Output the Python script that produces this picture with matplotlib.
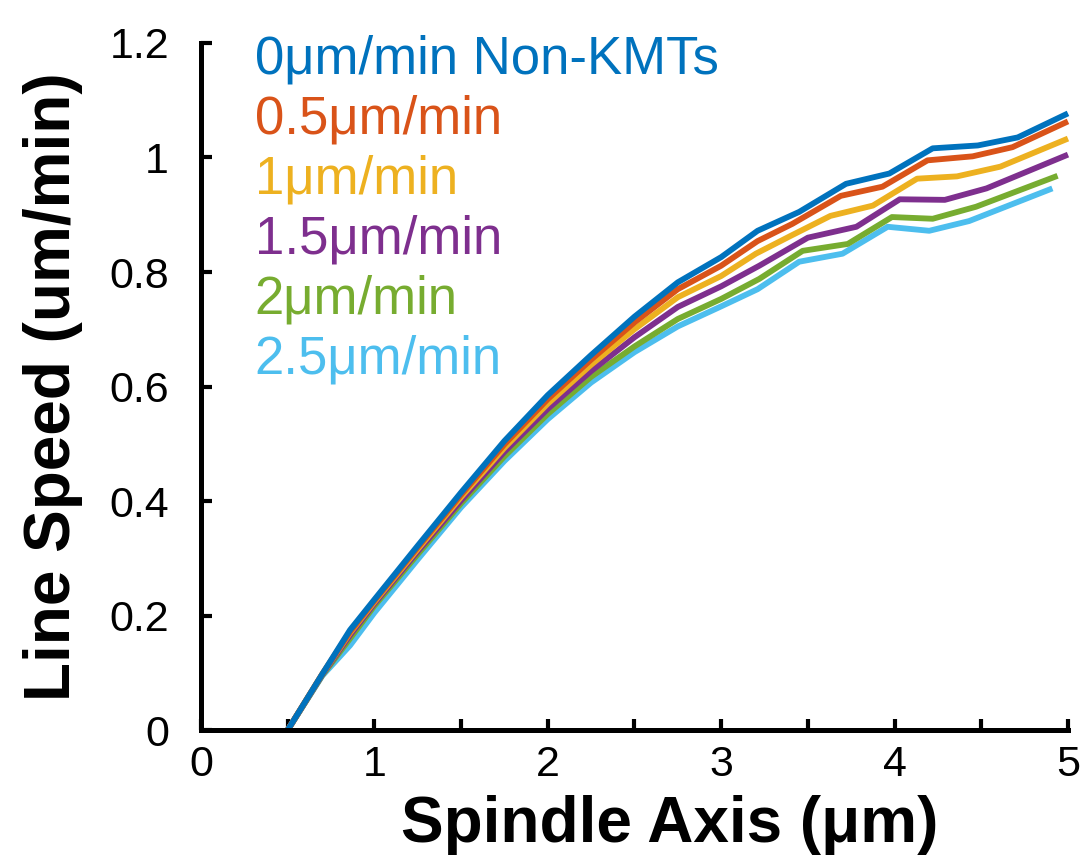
import matplotlib
matplotlib.use("Agg")
import matplotlib.pyplot as plt
from matplotlib.ticker import MultipleLocator, FuncFormatter

plt.rcParams['font.family'] = ['Liberation Sans', 'DejaVu Sans']

# shared x positions for the lower, smooth part of the curves
x_common = [0.5, 0.70, 0.86, 1.0, 1.25, 1.5, 1.75, 2.0, 2.25, 2.5, 2.75, 3.0]

labels = ['0μm/min Non-KMTs', '0.5μm/min', '1μm/min', '1.5μm/min', '2μm/min', '2.5μm/min']
colors = ['#0072BD', '#D95319', '#EDB120', '#7E2F8E', '#77AC30', '#4DBEEE']

y_0 = [0, 0.098, 0.175, 0.228, 0.322, 0.415, 0.505, 0.585, 0.655, 0.722, 0.782, 0.826]
y_05 = [0, 0.098, 0.172, 0.226, 0.319, 0.411, 0.499, 0.578, 0.647, 0.712, 0.770, 0.811]
y_1 = [0, 0.098, 0.170, 0.224, 0.316, 0.407, 0.493, 0.570, 0.638, 0.700, 0.756, 0.793]
y_15 = [0, 0.097, 0.166, 0.221, 0.312, 0.401, 0.486, 0.561, 0.627, 0.686, 0.739, 0.775]
y_2 = [0, 0.096, 0.160, 0.217, 0.307, 0.396, 0.478, 0.552, 0.617, 0.670, 0.718, 0.753]
y_25 = [0, 0.095, 0.148, 0.205, 0.298, 0.389, 0.470, 0.543, 0.607, 0.660, 0.705, 0.740]

# upper part, each curve has its own sample positions
x_tail_0 = [3.21, 3.45, 3.72, 3.97, 4.22, 4.48, 4.71, 5.0]
y_tail_0 = [0.872, 0.905, 0.954, 0.972, 1.016, 1.021, 1.035, 1.077]
x_tail_05 = [3.21, 3.41, 3.69, 3.93, 4.19, 4.45, 4.68, 5.0]
y_tail_05 = [0.854, 0.884, 0.933, 0.949, 0.995, 1.002, 1.018, 1.063]
x_tail_1 = [3.20, 3.40, 3.63, 3.875, 4.13, 4.36, 4.61, 5.0]
y_tail_1 = [0.832, 0.863, 0.898, 0.916, 0.963, 0.967, 0.984, 1.033]
x_tail_15 = [3.22, 3.50, 3.78, 4.03, 4.29, 4.53, 5.0]
y_tail_15 = [0.811, 0.860, 0.879, 0.927, 0.926, 0.946, 1.005]
x_tail_2 = [3.22, 3.47, 3.73, 3.985, 4.22, 4.47, 4.94]
y_tail_2 = [0.788, 0.837, 0.849, 0.896, 0.893, 0.914, 0.968]
x_tail_25 = [3.21, 3.45, 3.70, 3.96, 4.20, 4.43, 4.91]
y_tail_25 = [0.770, 0.818, 0.832, 0.879, 0.872, 0.889, 0.946]

series = [
    (y_0, x_tail_0, y_tail_0),
    (y_05, x_tail_05, y_tail_05),
    (y_1, x_tail_1, y_tail_1),
    (y_15, x_tail_15, y_tail_15),
    (y_2, x_tail_2, y_tail_2),
    (y_25, x_tail_25, y_tail_25),
]

fig = plt.figure(figsize=(10.92, 8.59), dpi=100)
ax = fig.add_axes([0.184, 0.150, 0.794, 0.800])

# draw back to front so the top curve ends up on top
for (yc, xt, yt), c in reversed(list(zip(series, colors))):
    ax.plot(x_common + xt, yc + yt, color=c, lw=4.2, solid_joinstyle='round',
            solid_capstyle='butt', clip_on=False)

ax.set_xlim(0, 5)
ax.set_ylim(0, 1.2)
ax.spines['top'].set_visible(False)
ax.spines['right'].set_visible(False)
for s in ['left', 'bottom']:
    ax.spines[s].set_linewidth(3.6)

ax.xaxis.set_major_locator(MultipleLocator(1))
ax.xaxis.set_minor_locator(MultipleLocator(0.5))
ax.yaxis.set_major_locator(MultipleLocator(0.2))
fmt = FuncFormatter(lambda v, p: f'{v:g}')
ax.xaxis.set_major_formatter(fmt)
ax.yaxis.set_major_formatter(fmt)
ax.tick_params(axis='both', which='both', direction='in', length=8, width=3)
ax.tick_params(axis='x', which='major', labelsize=31, pad=11)
ax.tick_params(axis='y', which='major', labelsize=31, pad=23)

ax.set_xlabel('Spindle Axis (μm)', fontsize=46, fontweight='bold', labelpad=7)
ax.xaxis.label.set_x(0.541)
ax.set_ylabel('Line Speed (um/min)', fontsize=46, fontweight='bold', labelpad=19)

# coloured legend text in the upper-left corner
for i, (lab, c) in enumerate(zip(labels, colors)):
    ax.text(0.31, 1.147 - i * 0.105, lab, color=c, fontsize=38,
            ha='left', va='baseline', transform=ax.transData)

fig.savefig('out.png', dpi=100)
